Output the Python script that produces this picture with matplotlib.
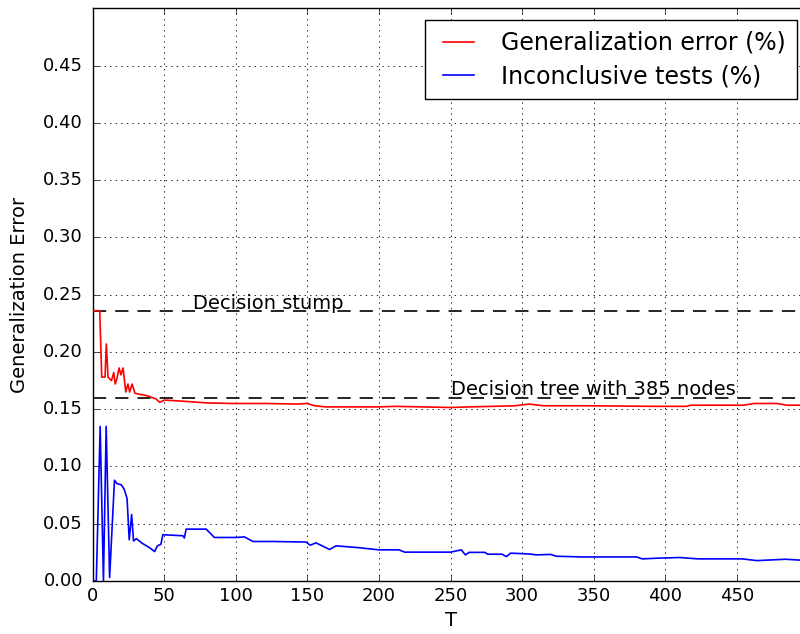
import matplotlib
matplotlib.use('Agg')
import matplotlib.pyplot as plt

plt.style.use('classic')

# generalization error
t_gen = [0, 4.9, 6.3, 8.6, 9.5, 10.7, 13.1, 14.7, 15.7, 17, 18.4, 19.7, 21.2, 23.1,
         24.6, 25.8, 27.5, 29.5, 32.8, 37.3, 44.2, 46.8, 50, 63, 80, 97, 120, 143,
         150, 155, 163, 200, 211, 250, 263, 295, 305, 315, 345, 393, 415, 418, 455,
         462, 478, 485, 500]
gen_err = [0.236, 0.236, 0.178, 0.178, 0.207, 0.178, 0.175, 0.182, 0.172, 0.177,
           0.186, 0.180, 0.186, 0.165, 0.172, 0.165, 0.172, 0.164, 0.163, 0.162,
           0.159, 0.156, 0.158, 0.157, 0.1555, 0.155, 0.155, 0.1545, 0.155, 0.153,
           0.152, 0.152, 0.1525, 0.1515, 0.152, 0.153, 0.1545, 0.153, 0.153, 0.1525,
           0.1525, 0.1535, 0.1535, 0.155, 0.155, 0.1535, 0.1535]

# inconclusive tests
t_inc = [0, 2.5, 5.2, 7.5, 9.4, 11.8, 15.2, 17, 20, 22, 24, 25.5, 27.2, 28.5, 30.5,
         34.5, 39.8, 43.2, 45.2, 47.6, 49, 63, 64, 65.3, 79.3, 85, 100, 106, 112,
         126, 149, 152, 156, 165.5, 170, 185, 200, 214, 218, 250, 257.5, 260.4, 263,
         274, 276, 286, 289, 292, 305, 310, 320, 324, 343, 380, 384, 394, 410, 423,
         454, 464, 479, 484, 500]
inc_tests = [0.0, 0.0, 0.135, 0.0, 0.135, 0.003, 0.088, 0.085, 0.084, 0.080, 0.072,
             0.036, 0.058, 0.035, 0.037, 0.033, 0.029, 0.0257, 0.0307, 0.032, 0.0404,
             0.0395, 0.0375, 0.0453, 0.0453, 0.038, 0.038, 0.0385, 0.0345, 0.0345,
             0.034, 0.0313, 0.0333, 0.0275, 0.0307, 0.0292, 0.0272, 0.0272, 0.0252,
             0.0252, 0.0272, 0.0228, 0.025, 0.025, 0.0234, 0.0234, 0.0213, 0.0243,
             0.0236, 0.0228, 0.0232, 0.0216, 0.021, 0.021, 0.0193, 0.0199, 0.0205,
             0.0193, 0.0193, 0.0178, 0.0187, 0.019, 0.0178]

# baselines
stump_err = 0.236
tree_err = 0.160

fig = plt.figure(figsize=(8, 6.34), dpi=100, facecolor='white')
ax = fig.add_axes([0.1159, 0.0836, 0.8945, 0.9032])

ax.plot(t_gen, gen_err, color='red', lw=1.2, zorder=3, label='Generalization error (%)')
ax.plot(t_inc, inc_tests, color='blue', lw=1.2, zorder=3, label='Inconclusive tests (%)')
ax.axhline(stump_err, color='black', lw=1.2, dashes=(9.5, 6.5), zorder=2)
ax.axhline(tree_err, color='black', lw=1.2, dashes=(9.5, 6.5), zorder=2)
ax.text(70, 0.2378, 'Decision stump', fontsize=14, va='baseline')
ax.text(250, 0.1625, 'Decision tree with 385 nodes', fontsize=14, va='baseline')

# the right end (tick 500) falls outside the cropped picture
ax.set_xlim(0, 500)
ax.set_ylim(0, 0.5)
ax.set_xticks(range(0, 451, 50))
ax.set_yticks([0.05 * i for i in range(10)])
ax.set_yticklabels(['%.2f' % (0.05 * i) for i in range(10)])
ax.tick_params(labelsize=13)
ax.tick_params(axis='y', pad=7)
ax.grid(True, color='black', linestyle=':', lw=0.6)
ax.set_xlabel('T', fontsize=14)
ax.set_ylabel('Generalization Error', fontsize=14, labelpad=10)

ax.legend(loc='upper right', fontsize=17, handlelength=1.92, handletextpad=0.85,
          labelspacing=0.4, borderpad=0.45, borderaxespad=0.5)

fig.savefig('out.png', dpi=100, facecolor='white')
